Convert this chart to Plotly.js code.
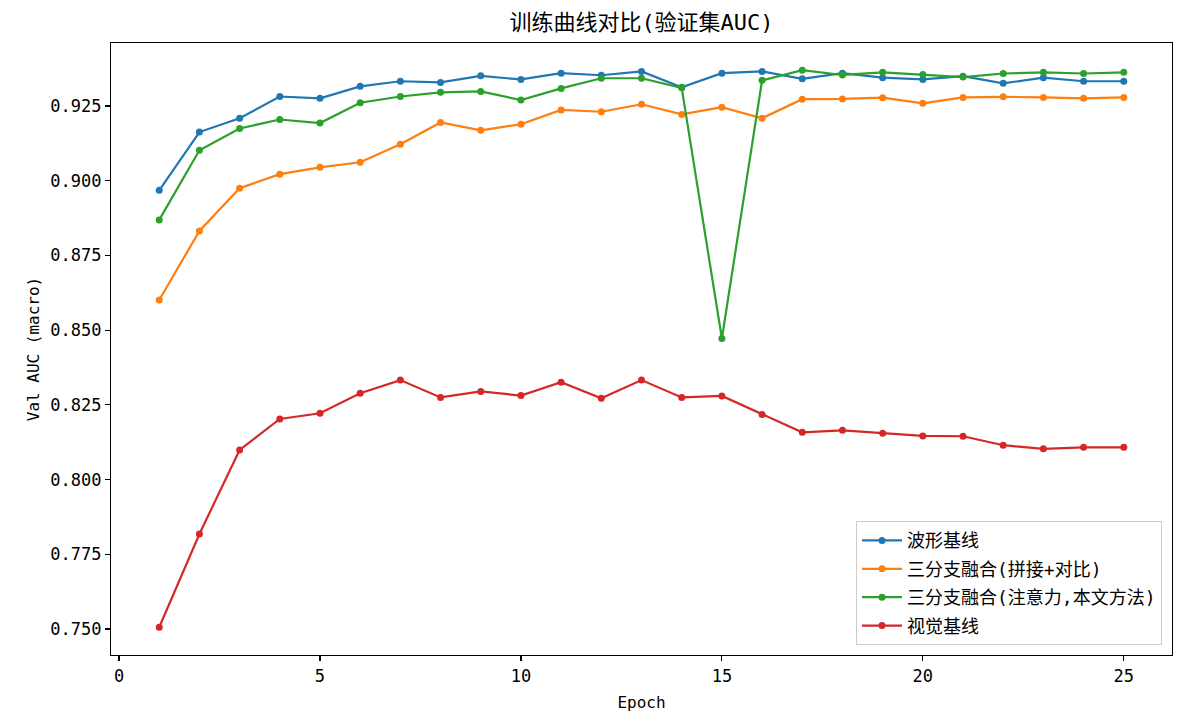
<!DOCTYPE html>
<html>
<head>
<meta charset="utf-8">
<script src="https://cdn.plot.ly/plotly-3.0.1.min.js"></script>
<style>
html,body{margin:0;padding:0;background:#fff;}
#chart{width:1187px;height:723px;}
</style>
</head>
<body>
<div id="chart"></div>
<script>
const epochs = [1,2,3,4,5,6,7,8,9,10,11,12,13,14,15,16,17,18,19,20,21,22,23,24,25];
const seriesNames = ["波形基线","三分支融合(拼接+对比)","三分支融合(注意力,本文方法)","视觉基线"];
const waveBaseline = [0.8968,0.9163,0.9209,0.9282,0.9276,0.9316,0.9333,0.9329,0.9351,0.9339,0.9360,0.9353,0.9366,0.9313,0.9360,0.9366,0.9341,0.9360,0.9345,0.9339,0.9350,0.9326,0.9345,0.9333,0.9333];
const fusionConcat = [0.8601,0.8832,0.8975,0.9022,0.9045,0.9062,0.9122,0.9195,0.9169,0.9189,0.9237,0.9231,0.9256,0.9222,0.9246,0.9209,0.9273,0.9274,0.9278,0.9259,0.9279,0.9281,0.9279,0.9276,0.9279];
const fusionAttention = [0.8869,0.9102,0.9175,0.9205,0.9193,0.9261,0.9282,0.9296,0.9299,0.9270,0.9309,0.9343,0.9343,0.9311,0.8472,0.9336,0.9370,0.9354,0.9363,0.9356,0.9347,0.9359,0.9363,0.9359,0.9363];
const visualBaseline = [0.7506,0.7818,0.8099,0.8203,0.8222,0.8289,0.8333,0.8275,0.8295,0.8281,0.8326,0.8272,0.8333,0.8275,0.8280,0.8218,0.8158,0.8165,0.8155,0.8146,0.8145,0.8115,0.8103,0.8108,0.8108];
const xTicks = [0,5,10,15,20,25];
const yTicks = [0.750,0.775,0.800,0.825,0.850,0.875,0.900,0.925];
const yTickText = ["0.750","0.775","0.800","0.825","0.850","0.875","0.900","0.925"];

const colors = ["#1f77b4","#ff7f0e","#2ca02c","#d62728"];
const allSeries = [waveBaseline, fusionConcat, fusionAttention, visualBaseline];
const font = "'DejaVu Sans Mono', 'Noto Sans CJK SC', monospace";

const traces = allSeries.map((ys, i) => ({
  x: epochs, y: ys, name: seriesNames[i], type: "scatter", mode: "lines+markers",
  legendgroup: "g" + i,
  line: {color: colors[i], width: 2.2},
  marker: {color: colors[i], size: 7}
}));

const layout = {
  width: 1187, height: 723,
  paper_bgcolor: "#fff", plot_bgcolor: "#fff",
  margin: {l: 111, r: 15, t: 43, b: 68},
  font: {family: font, size: 16, color: "#000"},
  title: {text: "训练曲线对比(验证集AUC)", x: 0.5, xref: "paper", xanchor: "center", y: 0.9696, yanchor: "middle", yref: "container", font: {size: 22, family: font, color: "#000"}},
  xaxis: {
    range: [-0.2, 26.2], tickvals: xTicks, ticks: "outside", ticklen: 5, tickwidth: 1.2, tickcolor: "#000",
    showline: true, linecolor: "#000", linewidth: 1.2, mirror: true, showgrid: false, zeroline: false,
    tickfont: {size: 17, family: font},
    title: {text: "Epoch", font: {size: 16, family: font}, standoff: 12}
  },
  yaxis: {
    range: [0.7413, 0.9461], tickvals: yTicks, ticktext: yTickText, ticks: "outside", ticklen: 5, tickwidth: 1.2, tickcolor: "#000",
    showline: true, linecolor: "#000", linewidth: 1.2, mirror: true, showgrid: false, zeroline: false,
    tickfont: {size: 17, family: font},
    title: {text: "Val AUC (macro)", font: {size: 16, family: font}, standoff: 6}
  },
  legend: {
    x: 0.9906, xanchor: "right", y: 0.016, yanchor: "bottom",
    bordercolor: "#cccccc", borderwidth: 1, bgcolor: "rgba(255,255,255,0.8)",
    font: {size: 18, family: font}, tracegroupgap: 2, itemwidth: 40
  },
  showlegend: true
};

Plotly.newPlot("chart", traces, layout, {displayModeBar: false, staticPlot: true});
</script>
</body>
</html>
